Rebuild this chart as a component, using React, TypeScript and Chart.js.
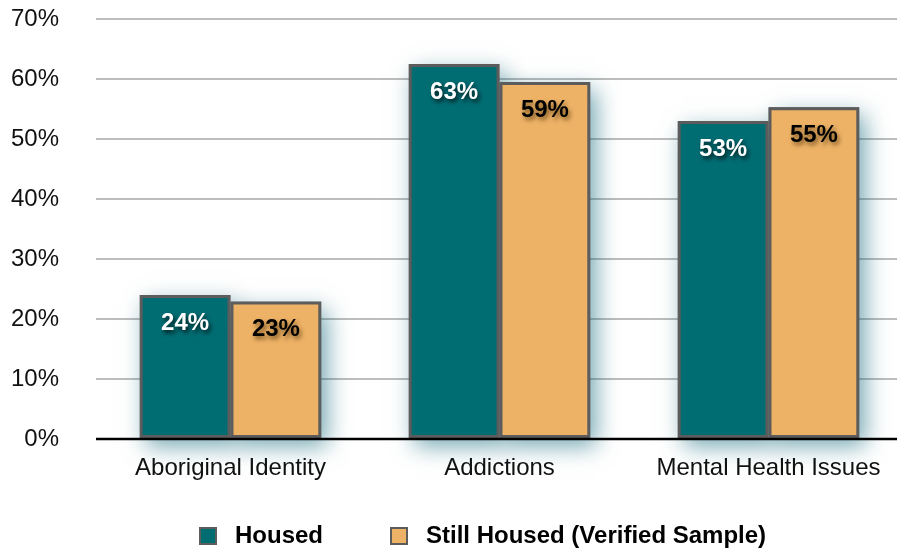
import React, { useEffect, useRef } from 'react';
import { Chart, registerables } from 'chart.js';
Chart.register(...registerables);

const categories = ['Aboriginal Identity', 'Addictions', 'Mental Health Issues'];
const seriesNames = ['Housed', 'Still Housed (Verified Sample)'];
const housed = [24, 62.5, 53];
const stillHoused = [22.9, 59.5, 55.3];
const housedLabels = ['24%', '63%', '53%'];
const stillHousedLabels = ['23%', '59%', '55%'];
const yMax = 70;
const yStep = 10;

const FONT = '"Liberation Sans", Arial, Helvetica, sans-serif';
const TEAL = '#006d73';
const TAN = '#edb266';
const EDGE = '#5c5c5c';

const glowPlugin = {
  id: 'glow',
  beforeDatasetsDraw(chart: any) {
    const ctx = chart.ctx;
    ctx.save();
    chart.data.datasets.forEach((ds: any, di: number) => {
      const meta = chart.getDatasetMeta(di);
      meta.data.forEach((el: any) => {
        const p = el.getProps(['x', 'y', 'base', 'width'], true);
        ctx.save();
        ctx.shadowColor = 'rgba(0,95,115,0.55)';
        ctx.shadowBlur = 22;
        ctx.shadowOffsetX = 6;
        ctx.shadowOffsetY = 8;
        ctx.fillStyle = EDGE;
        ctx.fillRect(p.x - p.width / 2, p.y, p.width, p.base - p.y);
        ctx.restore();
      });
    });
    ctx.restore();
  },
};

const labelPlugin = {
  id: 'barLabels',
  afterDatasetsDraw(chart: any) {
    const ctx = chart.ctx;
    const area = chart.chartArea;
    const y0 = chart.scales.y.getPixelForValue(0);
    ctx.save();
    ctx.strokeStyle = '#000';
    ctx.lineWidth = 2.5;
    ctx.beginPath();
    ctx.moveTo(area.left, y0);
    ctx.lineTo(area.right, y0);
    ctx.stroke();
    ctx.restore();

    const labelSets = [housedLabels, stillHousedLabels];
    chart.data.datasets.forEach((ds: any, di: number) => {
      const meta = chart.getDatasetMeta(di);
      meta.data.forEach((el: any, i: number) => {
        const p = el.getProps(['x', 'y'], true);
        ctx.save();
        ctx.font = `bold 24px ${FONT}`;
        ctx.textAlign = 'center';
        ctx.textBaseline = 'middle';
        if (di === 0) {
          ctx.shadowColor = 'rgba(0,0,0,0.75)';
          ctx.fillStyle = '#ffffff';
        } else {
          ctx.shadowColor = 'rgba(80,50,10,0.7)';
          ctx.fillStyle = '#000000';
        }
        ctx.shadowBlur = 4;
        ctx.shadowOffsetX = 2;
        ctx.shadowOffsetY = 3;
        ctx.fillText(labelSets[di][i], p.x, p.y + 28);
        ctx.restore();
      });
    });
  },
};

const legendPlugin = {
  id: 'customLegend',
  afterDraw(chart: any) {
    const ctx = chart.ctx;
    const colors = [TEAL, TAN];
    let x = chart.chartArea.left + 103;
    const yc = 536;
    ctx.save();
    ctx.font = `bold 24px ${FONT}`;
    ctx.textBaseline = 'middle';
    ctx.textAlign = 'left';
    seriesNames.forEach((name, i) => {
      ctx.fillStyle = EDGE;
      ctx.fillRect(x, yc - 9, 18, 18);
      ctx.fillStyle = colors[i];
      ctx.fillRect(x + 2, yc - 7, 14, 14);
      const tx = x + 36;
      ctx.fillStyle = '#000';
      ctx.fillText(name, tx, yc);
      x = tx + ctx.measureText(name).width + 67;
    });
    ctx.restore();
  },
};

export default function App() {
  const ref = useRef<HTMLCanvasElement>(null);
  useEffect(() => {
    if (!ref.current) return;
    const chart = new Chart(ref.current, {
      type: 'bar',
      data: {
        labels: categories,
        datasets: [
          {
            label: seriesNames[0],
            data: housed,
            backgroundColor: TEAL,
            borderColor: EDGE,
            borderWidth: 3,
            borderSkipped: false,
            categoryPercentage: 0.675,
            barPercentage: 1,
          },
          {
            label: seriesNames[1],
            data: stillHoused,
            backgroundColor: TAN,
            borderColor: EDGE,
            borderWidth: 3,
            borderSkipped: false,
            categoryPercentage: 0.675,
            barPercentage: 1,
          },
        ],
      },
      options: {
        animation: false,
        responsive: false,
        devicePixelRatio: 1,
        layout: { autoPadding: false, padding: { top: 19, right: 0, bottom: 0, left: 0 } },
        plugins: {
          legend: { display: false },
          title: { display: false },
          tooltip: { enabled: false },
        },
        scales: {
          x: {
            grid: { display: false, drawTicks: false },
            border: { display: false },
            ticks: {
              font: { family: FONT, size: 24 },
              color: '#111',
              padding: 15,
              maxRotation: 0,
            },
            afterFit(scale: any) {
              scale.height = 109;
              scale.paddingLeft = 0;
              scale.paddingRight = 0;
            },
          },
          y: {
            min: 0,
            max: yMax,
            border: { display: false },
            grid: {
              drawTicks: false,
              color: (c: any) => (c.tick && c.tick.value === 0 ? 'rgba(0,0,0,0)' : '#bdbdbd'),
              lineWidth: 2,
            },
            ticks: {
              stepSize: yStep,
              callback: (v: any) => v + '%',
              font: { family: FONT, size: 24 },
              color: '#111',
              padding: 37,
            },
            afterFit(scale: any) {
              scale.width = 96;
              scale.paddingTop = 0;
              scale.paddingBottom = 0;
            },
          },
        },
      },
      plugins: [glowPlugin, labelPlugin, legendPlugin],
    });
    return () => chart.destroy();
  }, []);
  return (
    <div style={{ position: 'fixed', left: 0, top: 0, width: 897, height: 548, overflow: 'hidden', background: '#fff' }}>
      <canvas ref={ref} width={903} height={548} style={{ display: 'block' }} />
    </div>
  );
}
